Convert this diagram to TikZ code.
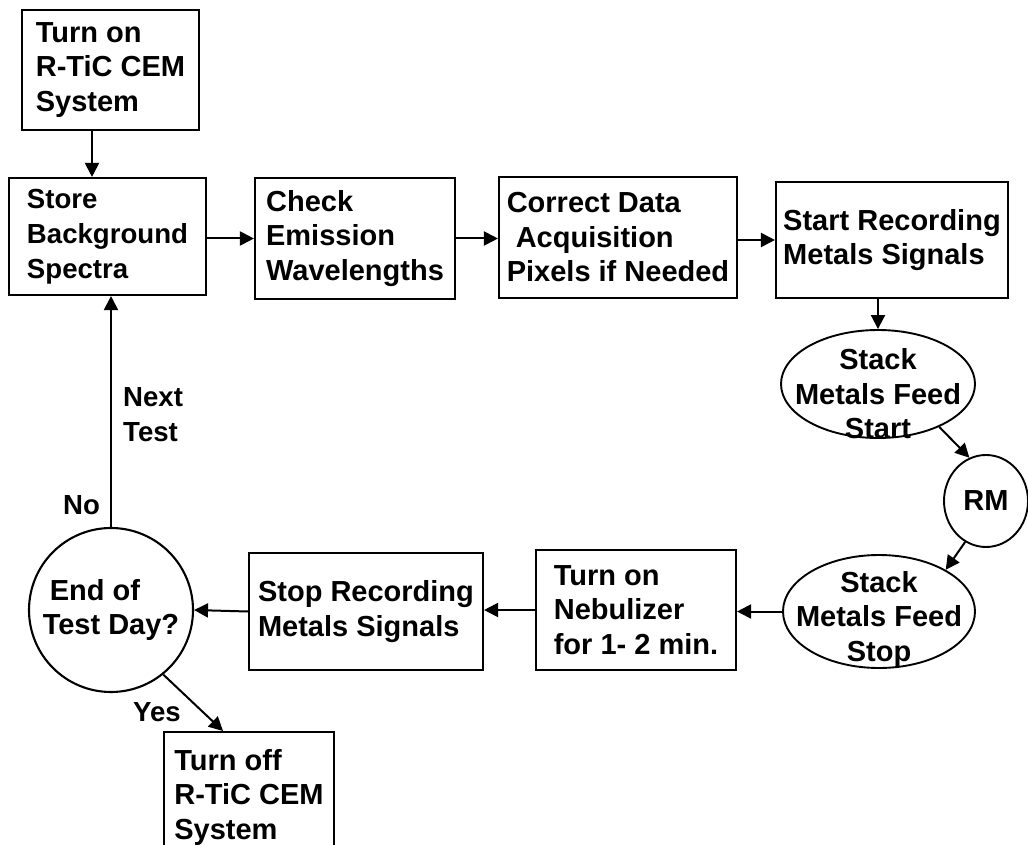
\documentclass[tikz,border=0pt]{standalone}
\usepackage{fontspec}
\setmainfont{Liberation Sans}
\usetikzlibrary{shapes.geometric,arrows.meta}
\newcommand{\bigtxt}{\bfseries\fontsize{29}{34.5}\selectfont}
\newcommand{\smalltxt}{\bfseries\fontsize{27.6}{35}\selectfont}
\tikzset{
  box/.style={draw,line width=2.1pt,align=left,font=\bigtxt,inner sep=0pt},
  ell/.style={draw,ellipse,line width=1.9pt,inner sep=-20pt,font=\bigtxt},
  elltxt/.style={font=\bigtxt,align=center,inner sep=0pt},
  arr/.style={line width=2pt,-{Triangle[length=14pt,width=14pt]}},
  lbl/.style={font=\smalltxt,align=left,inner sep=0pt},
}
\begin{document}
\begin{tikzpicture}[x=1pt,y=-1pt]
\useasboundingbox (0,0) rectangle (1028,845);
% top row
\node[box,minimum width=177pt,minimum height=120pt] (turnon) at (110.5,70) {Turn on\\R-TiC CEM\\System};
\node[box,font=\smalltxt,minimum width=197pt,minimum height=117pt] (store) at (107.5,236.5) {Store\\Background\\Spectra};
\node[box,minimum width=200pt,minimum height=121pt] (check) at (355,238.5) {Check\\Emission\\Wavelengths};
\node[box,minimum width=238pt,minimum height=121pt] (correct) at (618,237.5) {Correct Data\\\hspace*{9pt}Acquisition\\Pixels if Needed};
\node[box,minimum width=232pt,minimum height=116pt] (start) at (892,240) {Start Recording\\Metals Signals};
% right column
\node[ell,minimum width=194pt,minimum height=108pt] (fs) at (878,384) {};
\node[elltxt] (fstext) at ([yshift=-10pt]fs) {Stack\\Metals Feed\\Start};
\node[ell,minimum width=84pt,minimum height=92pt] (rm) at (986,501) {RM};
\node[ell,minimum width=192pt,minimum height=113pt] (fstop) at (879,611.5) {};
\node[elltxt] (fstoptext) at ([yshift=-7.5pt]fstop) {Stack\\Metals Feed\\Stop};
% bottom row
\node[box,minimum width=200pt,minimum height=120pt] (nebul) at (636,610) {Turn on\\Nebulizer\\for 1- 2 min.};
\node[box,minimum width=234pt,minimum height=117pt] (stoprec) at (366,611.5) {Stop Recording\\Metals Signals};
\node[box,circle,inner sep=-5pt,minimum size=164pt] (endday) at (111,610) {\hspace*{7pt}End of\\Test Day?};
\node[box,anchor=north,minimum width=170pt,minimum height=130pt] (turnoff) at (249,731) {Turn off\\R-TiC CEM\\System};
% labels
\node[lbl,anchor=north west] (next) at (123,387) {Next\\Test};
\node[lbl,anchor=north west] (no) at (63,495) {No};
\node[lbl,anchor=north west] (yes) at (133,702) {Yes};
% connectors
\draw[arr] ([xshift=-18.5pt]turnon.south) -- ([xshift=-18.5pt]turnon.south |- store.north);
\draw[arr] (store.east |- check) -- (check.west);
\draw[arr] (check.east) -- (check.east -| correct.west);
\draw[arr] (correct.east |- start) -- (start.west);
\draw[arr] (fs.north |- start.south) -- (fs.north);
\draw[arr] (fs.-35) -- (rm.111);
\draw[arr] (rm.243) -- (fstop.32);
\draw[arr] (fstop.west) -- (fstop.west -| nebul.east);
\draw[arr] (nebul.west) -- (nebul.west -| stoprec.east);
\draw[arr] (stoprec.west) -- (endday.east);
\draw[arr] (endday.north) -- (endday.north |- store.south);
\draw[arr] (endday.-51) -- ([xshift=-26pt]turnoff.north);
\end{tikzpicture}
\end{document}
